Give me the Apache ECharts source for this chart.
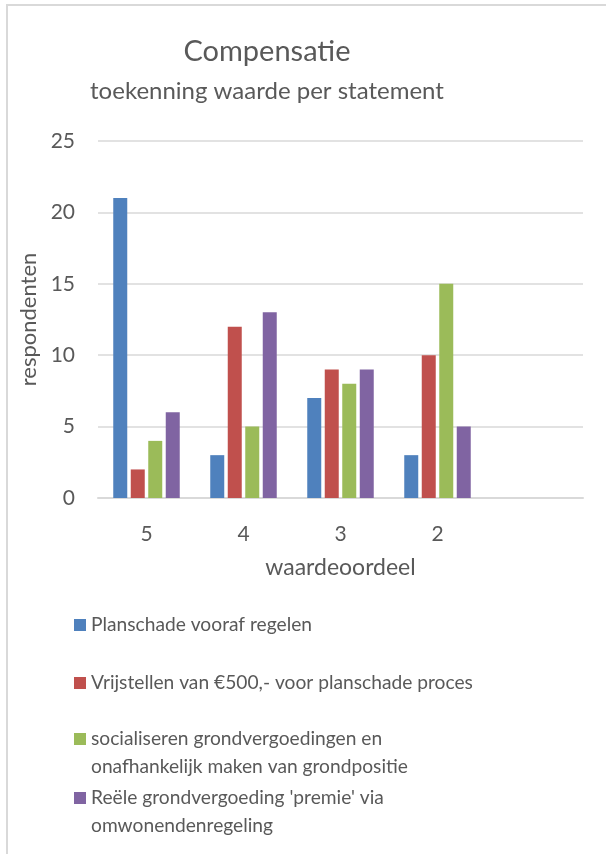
<!DOCTYPE html>
<html><head><meta charset="utf-8">
<script src="https://cdn.jsdelivr.net/npm/echarts@6/dist/echarts.min.js"></script>
<style>html,body{margin:0;padding:0;background:#fff}#c{width:606px;height:854px}</style>
</head><body><div id="c"></div>
<script>
const categories = ['5', '4', '3', '2', ''];
const seriesNames = [
  'Planschade vooraf regelen',
  'Vrijstellen van €500,- voor planschade proces',
  'socialiseren grondvergoedingen en\nonafhankelijk maken van grondpositie',
  "Reële grondvergoeding 'premie' via\nomwonendenregeling"
];
const planschade = [21, 3, 7, 3, null];
const vrijstellen = [2, 12, 9, 10, null];
const socialiseren = [4, 5, 8, 15, null];
const reele = [6, 13, 9, 5, null];
const yTicks = [0, 5, 10, 15, 20, 25];

const colors = ['#4F81BD', '#C0504D', '#9BBB59', '#8064A2'];
const values = [planschade, vrijstellen, socialiseren, reele];
const FONT = 'Lato';
const TXT = '#595959';

const chart = echarts.init(document.getElementById('c'));
const legendTops = [611, 669, 697, 756];
const legends = seriesNames.map((n, i) => {
  const multi = n.indexOf('\n') >= 0;
  return {
    orient: 'vertical', left: 74, top: legendTops[i], padding: 0,
    data: [n], itemWidth: 12, itemHeight: 12, icon: 'rect',
    selectedMode: false,
    formatter: multi ? (name => '\u00a0\n' + name) : (name => name),
    textStyle: { color: TXT, fontFamily: FONT, fontSize: 19.2, lineHeight: 28 }
  };
});

chart.setOption({
  animation: false,
  title: [
    { text: 'Compensatie', left: 267, top: 37, textAlign: 'center', padding: 0,
      textStyle: { color: TXT, fontFamily: FONT, fontSize: 29, fontWeight: 'normal' } },
    { text: 'toekenning waarde per statement', left: 267, top: 79, textAlign: 'center', padding: 0,
      textStyle: { color: TXT, fontFamily: FONT, fontSize: 24, fontWeight: 'normal' } }
  ],
  graphic: [{ type: 'rect', shape: { x: 7, y: 5, width: 800, height: 900 },
    style: { fill: 'none', stroke: '#D9D9D9', lineWidth: 2 }, silent: true }],
  legend: legends,
  grid: { left: 98, right: 23, top: 141, bottom: 356 },
  xAxis: {
    type: 'category', data: categories,
    axisLine: { lineStyle: { color: '#D9D9D9', width: 2 } },
    axisTick: { show: false },
    axisLabel: { color: TXT, fontFamily: FONT, fontSize: 21, margin: 26 },
    name: 'waardeoordeel', nameLocation: 'middle', nameGap: 58,
    nameTextStyle: { color: TXT, fontFamily: FONT, fontSize: 23 }
  },
  yAxis: {
    type: 'value', min: yTicks[0], max: yTicks[yTicks.length - 1], interval: 5,
    axisLine: { show: false }, axisTick: { show: false },
    splitLine: { lineStyle: { color: '#D9D9D9', width: 1.5 } },
    axisLabel: { color: TXT, fontFamily: FONT, fontSize: 21, margin: 23 },
    name: 'respondenten', nameLocation: 'middle', nameGap: 55, nameRotate: 90,
    nameTextStyle: { color: TXT, fontFamily: FONT, fontSize: 22 }
  },
  series: seriesNames.map((n, i) => ({
    name: n, type: 'bar', data: values[i], barWidth: 14, barGap: '25%',
    itemStyle: { color: colors[i] }
  }))
});
</script></body></html>
